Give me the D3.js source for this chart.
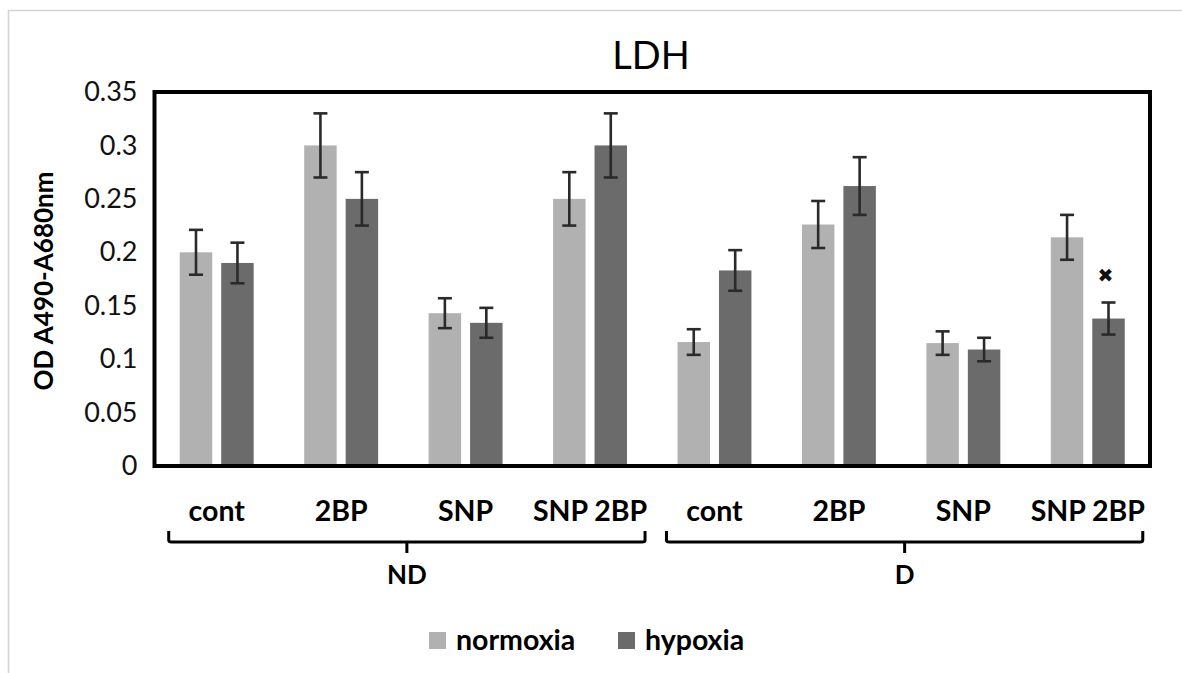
<!DOCTYPE html>
<html>
<head>
<meta charset="utf-8">
<script src="https://cdn.jsdelivr.net/npm/d3@7"></script>
<style>
  body { margin: 0; background: #fff; }
  svg { display: block; font-family: Lato, "Open Sans", sans-serif; }
</style>
</head>
<body>
<svg id="chart" width="1182" height="673"></svg>
<script>
// data
var categories  = ['cont', '2BP', 'SNP', 'SNP 2BP', 'cont', '2BP', 'SNP', 'SNP 2BP'];
var groups      = ['ND', 'D'];
var seriesNames = ['normoxia', 'hypoxia'];
var normoxia    = [0.200, 0.300, 0.143, 0.250, 0.116, 0.226, 0.115, 0.214];
var normoxiaErr = [0.021, 0.030, 0.014, 0.025, 0.012, 0.022, 0.011, 0.021];
var hypoxia     = [0.190, 0.250, 0.134, 0.300, 0.183, 0.262, 0.109, 0.138];
var hypoxiaErr  = [0.019, 0.025, 0.014, 0.030, 0.019, 0.027, 0.011, 0.015];
var yTicks      = [0, 0.05, 0.1, 0.15, 0.2, 0.25, 0.3, 0.35];
var yTickLabels = ['0', '0.05', '0.1', '0.15', '0.2', '0.25', '0.3', '0.35'];
var significant = [7]; // category index with the mark over hypoxia

var colors = {normoxia: '#b1b1b1', hypoxia: '#6b6b6b'};

var svg = d3.select('#chart');

var plot = {left: 154.5, right: 1150, top: 92, bottom: 466};

// outer chart frame
svg.append('rect')
  .attr('x', 8.5).attr('y', 10.5)
  .attr('width', 1200).attr('height', 700)
  .attr('fill', 'none')
  .attr('stroke', '#d4d4d4')
  .attr('stroke-width', 1.5);

var y = d3.scaleLinear()
  .domain([0, 0.35])
  .range([plot.bottom, plot.top]);

var x0 = d3.scaleBand()
  .domain(d3.range(categories.length))
  .range([plot.left, plot.right])
  .paddingInner(0.406)
  .paddingOuter(0.203);

var x1 = d3.scaleBand()
  .domain(seriesNames)
  .range([0, x0.bandwidth()])
  .paddingInner(0.217);

function center(i) { return x0(i) + x0.bandwidth() / 2; }

var rows = categories.map(function(c, i) {
  return {i: i, cat: c, values: [
    {key: 'normoxia', v: normoxia[i], e: normoxiaErr[i]},
    {key: 'hypoxia',  v: hypoxia[i],  e: hypoxiaErr[i]}
  ]};
});

// bars
var cat = svg.append('g').attr('class', 'bars')
  .selectAll('g').data(rows).enter().append('g')
  .attr('transform', function(d) { return 'translate(' + x0(d.i) + ',0)'; });

cat.selectAll('rect').data(function(d) { return d.values; }).enter().append('rect')
  .attr('x', function(d) { return x1(d.key); })
  .attr('y', function(d) { return y(d.v); })
  .attr('width', x1.bandwidth())
  .attr('height', function(d) { return y(0) - y(d.v); })
  .attr('fill', function(d) { return colors[d.key]; });

// error bars
var capW = 7;
var err = cat.selectAll('g.err').data(function(d) { return d.values; }).enter().append('g')
  .attr('class', 'err')
  .attr('stroke', '#2a2a2a')
  .attr('stroke-width', 2.6);

err.append('line')
  .attr('x1', function(d) { return x1(d.key) + x1.bandwidth() / 2; })
  .attr('x2', function(d) { return x1(d.key) + x1.bandwidth() / 2; })
  .attr('y1', function(d) { return y(d.v + d.e); })
  .attr('y2', function(d) { return y(d.v - d.e); });

[1, -1].forEach(function(s) {
  err.append('line')
    .attr('x1', function(d) { return x1(d.key) + x1.bandwidth() / 2 - capW; })
    .attr('x2', function(d) { return x1(d.key) + x1.bandwidth() / 2 + capW; })
    .attr('y1', function(d) { return y(d.v + s * d.e); })
    .attr('y2', function(d) { return y(d.v + s * d.e); });
});

// significance mark
svg.append('g').selectAll('text').data(significant).enter().append('text')
  .attr('x', function(i) { return x0(i) + x1('hypoxia') + x1.bandwidth() / 2 - 3; })
  .attr('y', function(i) { return y(hypoxia[i] + hypoxiaErr[i]) - 28; })
  .attr('text-anchor', 'middle')
  .attr('dominant-baseline', 'central')
  .style('font-family', 'DejaVu Sans')
  .style('font-size', '19px')
  .attr('fill', '#111')
  .text('\u2716');

// plot frame
svg.append('rect')
  .attr('x', plot.left).attr('y', plot.top)
  .attr('width', plot.right - plot.left)
  .attr('height', plot.bottom - plot.top)
  .attr('fill', 'none')
  .attr('stroke', '#000')
  .attr('stroke-width', 4);

// y axis
var yAxis = d3.axisLeft(y)
  .tickValues(yTicks)
  .tickFormat(function(d, i) { return yTickLabels[i]; })
  .tickSize(0)
  .tickPadding(17);

var ya = svg.append('g')
  .attr('transform', 'translate(' + plot.left + ',0)')
  .call(yAxis);
ya.select('.domain').remove();
ya.selectAll('text')
  .style('font-family', 'Lato')
  .style('font-size', '27px')
  .attr('fill', '#111');

// y title
svg.append('text')
  .attr('transform', 'translate(53,' + ((plot.top + plot.bottom) / 2 + 2) + ') rotate(-90)')
  .attr('text-anchor', 'middle')
  .style('font-size', '26px')
  .style('font-weight', 'bold')
  .attr('fill', '#000')
  .text('OD A490-A680nm');

// title
svg.append('text')
  .attr('x', 651).attr('y', 69)
  .attr('text-anchor', 'middle')
  .style('font-size', '38px')
  .attr('fill', '#000')
  .text('LDH');

// category labels
svg.append('g').selectAll('text').data(rows).enter().append('text')
  .attr('x', function(d) { return center(d.i); })
  .attr('y', 521)
  .attr('text-anchor', 'middle')
  .style('font-size', '28.5px')
  .style('font-weight', 'bold')
  .attr('fill', '#000')
  .text(function(d) { return d.cat; });

// group brackets
var perGroup = categories.length / groups.length;
var brackets = groups.map(function(g, k) {
  var a = center(k * perGroup) - 48;
  var b = center((k + 1) * perGroup - 1) + 55;
  return {name: g, a: a, b: b, m: (a + b) / 2};
});

var br = svg.append('g').selectAll('g').data(brackets).enter().append('g');
br.append('path')
  .attr('d', function(d) {
    return 'M' + d.a + ',531 L' + d.a + ',540 Q' + d.a + ',542 ' + (d.a + 3) + ',542' +
      ' L' + (d.b - 3) + ',542 Q' + d.b + ',542 ' + d.b + ',540 L' + d.b + ',531' +
      ' M' + d.m + ',542 L' + d.m + ',553';
  })
  .attr('fill', 'none')
  .attr('stroke', '#000')
  .attr('stroke-width', 3);
br.append('text')
  .attr('x', function(d) { return d.m; })
  .attr('y', 584)
  .attr('text-anchor', 'middle')
  .style('font-size', '26px')
  .style('font-weight', 'bold')
  .attr('fill', '#000')
  .text(function(d) { return d.name; });

// legend
var legendX = [429, 618];
var leg = svg.append('g').selectAll('g').data(seriesNames).enter().append('g')
  .attr('transform', function(d, i) { return 'translate(' + legendX[i] + ',632)'; });
leg.append('rect')
  .attr('width', 17).attr('height', 17)
  .attr('fill', function(d) { return colors[d]; });
leg.append('text')
  .attr('x', 27).attr('y', 18)
  .style('font-size', '28.5px')
  .style('font-weight', 'bold')
  .attr('fill', '#000')
  .text(function(d) { return d; });
</script>
</body>
</html>
